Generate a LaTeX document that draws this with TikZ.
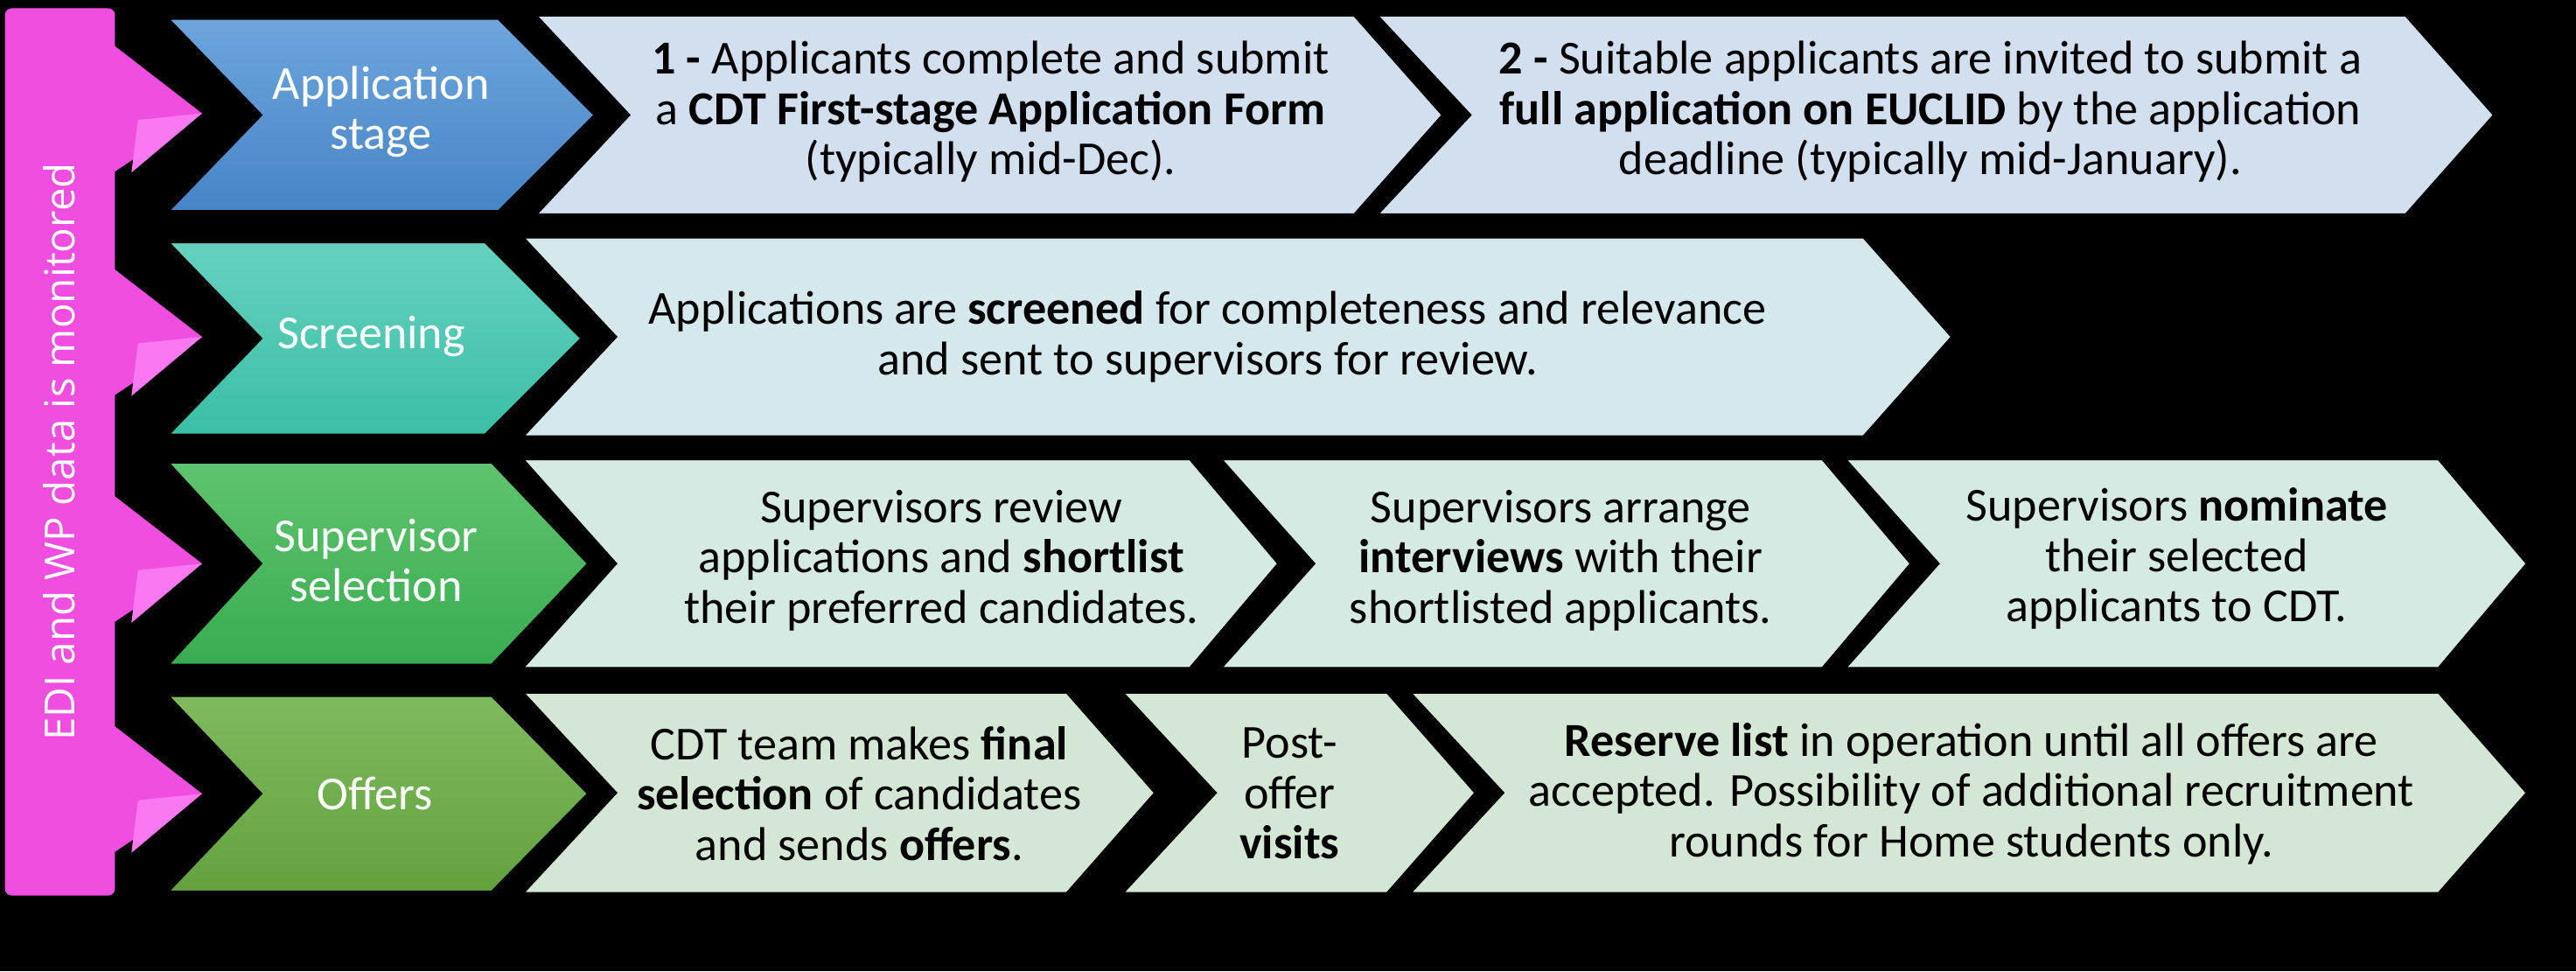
\documentclass[tikz,border=0pt]{standalone}
\usepackage{fontspec}
\setmainfont{Carlito}
\newfontfamily\barfont{Open Sans}
\begin{document}
\begin{tikzpicture}[x=0.05cm,y=-0.05cm,
  txt/.style={align=center,font=\fontsize{41}{43.5}\selectfont,text=black},
  lab/.style={align=center,font=\fontsize{41}{43}\selectfont,text=white},
  edge/.style={draw=black,line width=6pt,line join=miter}]
\fill[black] (0,0) rectangle (1568,591);
\useasboundingbox (0,0) rectangle (1568,591);
% chevron macro: #1 left, #2 flat right, #3 tip, #4 top, #5 bottom, #6 style
\newcommand\mychev[6]{%
  \path[#6] (#1,#4) -- (#2,#4) -- (#3,{(#4+#5)/2}) -- (#2,#5) -- (#1,#5) -- ({#1+58},{(#4+#5)/2}) -- cycle;}
% magenta bar
\foreach \m in {69,205,343,483}{
  \fill[fill={rgb,255:red,240;green,78;blue,224}] (66,\m-44) -- (123,\m) -- (66,\m+38) -- cycle;
  \fill[fill={rgb,255:red,250;green,120;blue,240}] (123,\m) -- (80,\m+36) -- (84,\m+4) -- cycle;
}
\fill[rounded corners=6pt,fill={rgb,255:red,240;green,78;blue,224}] (3,5) rectangle (70,545);
\node[rotate=90,text=white,font=\barfont\fontsize{36}{40}\selectfont] (bar) at (36,275) {EDI and WP data is monitored};
% text boxes
\mychev{835}{1465}{1520}{8}{132}{edge,fill={rgb,255:red,210;green,223;blue,238}}
\mychev{323}{825}{880}{8}{132}{edge,fill={rgb,255:red,210;green,223;blue,238}}
\mychev{315}{1135}{1190}{143}{267}{edge,fill={rgb,255:red,213;green,232;blue,235}}
\mychev{1120}{1485}{1540}{278}{408}{edge,fill={rgb,255:red,214;green,234;blue,228}}
\mychev{740}{1110}{1165}{278}{408}{edge,fill={rgb,255:red,214;green,234;blue,228}}
\mychev{315}{725}{780}{278}{408}{edge,fill={rgb,255:red,214;green,234;blue,228}}
\mychev{855}{1485}{1540}{420}{545}{edge,fill={rgb,255:red,212;green,230;blue,212}}
\mychev{680}{845}{900}{420}{545}{edge,fill={rgb,255:red,212;green,230;blue,212}}
\mychev{315}{650}{705}{420}{545}{edge,fill={rgb,255:red,212;green,230;blue,212}}
% coloured stage chevrons
\mychev{99}{304}{364}{10}{130}{edge,top color={rgb,255:red,110;green,166;blue,220},bottom color={rgb,255:red,70;green,132;blue,198}}
\mychev{99}{296}{356}{146}{266}{edge,top color={rgb,255:red,102;green,210;blue,190},bottom color={rgb,255:red,58;green,190;blue,166}}
\mychev{99}{300}{360}{280}{406}{edge,top color={rgb,255:red,96;green,196;blue,110},bottom color={rgb,255:red,56;green,172;blue,80}}
\mychev{99}{300}{360}{422}{544}{edge,top color={rgb,255:red,128;green,186;blue,96},bottom color={rgb,255:red,98;green,162;blue,60}}
\node[lab] (s1) at (232,68) {Application\\stage};
\node[lab] (s2) at (226,205) {Screening};
\node[lab] (s3) at (229,341) {Supervisor\\selection};
\node[lab] (s4) at (228,483) {Offers};
\node[txt] (t1) at (603,68) {\textbf{1 -} Applicants complete and submit\\a \textbf{CDT First-stage Application Form}\\(typically mid-Dec).};
\node[txt] (t2) at (1175,68) {\textbf{2 -} Suitable applicants are invited to submit a\\\textbf{full application on EUCLID} by the application\\deadline (typically mid-January).};
\node[txt] (t3) at (735,205) {Applications are \textbf{screened} for completeness and relevance\\and sent to supervisors for review.};
\node[txt] (t4) at (573,341) {Supervisors review\\applications and \textbf{shortlist}\\their preferred candidates.};
\node[txt] (t5) at (950,341) {Supervisors arrange\\\textbf{interviews} with their\\shortlisted applicants.};
\node[txt] (t6) at (1325,340) {Supervisors \textbf{nominate}\\their selected\\applicants to CDT.};
\node[txt] (t7) at (523,483) {CDT team makes \textbf{final}\\\textbf{selection} of candidates\\and sends \textbf{offers}.};
\node[txt] (t8) at (785,483) {Post-\\offer\\\textbf{visits}};
\node[txt] (t9) at (1200,483) {\textbf{Reserve list} in operation until all offers are\\accepted. Possibility of additional recruitment\\rounds for Home students only.};
\end{tikzpicture}
\end{document}
